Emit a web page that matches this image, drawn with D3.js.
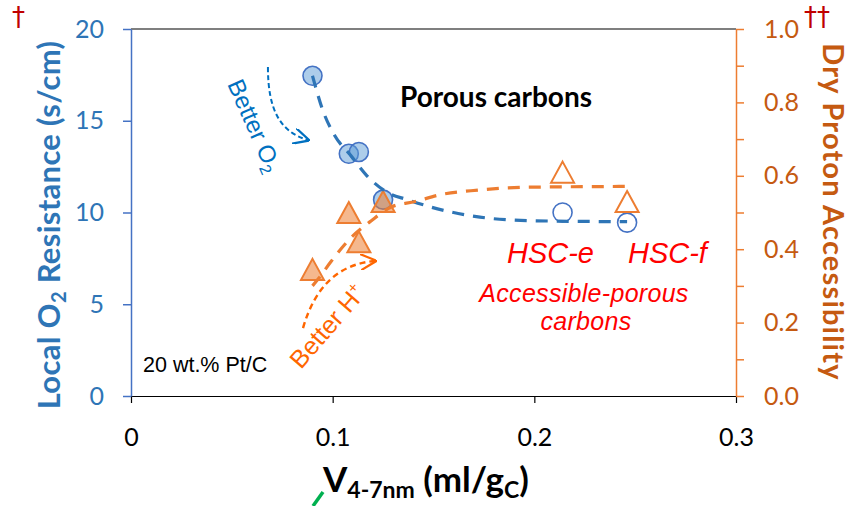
<!DOCTYPE html>
<html>
<head>
<meta charset="utf-8">
<script src="https://cdn.jsdelivr.net/npm/d3@7"></script>
<style>
  body { margin: 0; background: #fff; }
</style>
</head>
<body>
<div id="chart"></div>
<script>
// Values
const vPore = [0.090, 0.108, 0.113, 0.125, 0.214, 0.246];          // V4-7nm (ml/gC)
const o2Resistance = [17.45, 13.2, 13.3, 10.7, 10.0, 9.45];        // s/cm, left axis
const protonAccess = [0.345, 0.50, 0.42, 0.53, 0.61, 0.53];        // right axis
const openMarker = [false, false, false, false, true, true];       // HSC-e, HSC-f drawn hollow

// dashed trend lines (as drawn in the figure)
const o2TrendX = [0.090, 0.095, 0.101, 0.109, 0.117, 0.127, 0.137, 0.152, 0.173, 0.199, 0.246];
const o2TrendY = [17.45, 15.6, 14.2, 13.1, 12.0, 11.1, 10.7, 10.2, 9.75, 9.55, 9.5];
const hTrendX = [0.090, 0.093, 0.099, 0.108, 0.119, 0.129, 0.141, 0.153, 0.172, 0.198, 0.246];
const hTrendY = [0.30, 0.32, 0.365, 0.425, 0.477, 0.515, 0.53, 0.548, 0.561, 0.569, 0.571];

const xTicks = [0, 0.1, 0.2, 0.3];
const leftTicks = [0, 5, 10, 15, 20];
const rightTicks = [0, 0.1, 0.2, 0.3, 0.4, 0.5, 0.6, 0.7, 0.8, 0.9, 1.0];

// sample labels and where they sit (x in data units)
const hscNames = ["HSC-e", "HSC-f"];
const hscLabelX = [0.208, 0.266];

// "Better" arrows, in data units (cubic / quadratic control points)
const o2Arrow = [[0.0679, 17.93], [0.0679, 15.59], [0.0739, 14.39], [0.0878, 13.95]];
const hArrow = [[0.0853, 0.185], [0.0942, 0.356], [0.121, 0.368]];

const width = 851;
const height = 506;
const margin = {top: 29, right: 115, bottom: 110, left: 131};

const blue = "#2E75B6";
const blueLine = "#4472C4";
const orange = "#ED7D31";
const brown = "#C55A11";
const red = "#FF0000";
const calibri = "Lato, 'Open Sans', sans-serif";
const arial = "'Liberation Sans', Arial, sans-serif";

const svg = d3.select("#chart").append("svg")
    .attr("width", width)
    .attr("height", height)
    .attr("viewBox", [0, 0, width, height]);

const x = d3.scaleLinear().domain([0, 0.3]).range([margin.left, width - margin.right]);
const yL = d3.scaleLinear().domain([0, 20]).range([height - margin.bottom, margin.top]);
const yR = d3.scaleLinear().domain([0, 1]).range([height - margin.bottom, margin.top]);

// top frame line
svg.append("line")
    .attr("x1", x(0)).attr("x2", x(0.3))
    .attr("y1", yL(20)).attr("y2", yL(20))
    .attr("stroke", "#000").attr("stroke-width", 1.2);

// x axis
const gx = svg.append("g")
    .attr("transform", `translate(0,${yL(0)})`)
    .call(d3.axisBottom(x).tickValues(xTicks).tickSize(7).tickSizeOuter(0).tickPadding(25)
        .tickFormat(d => d === 0 ? "0" : d.toFixed(1)));
gx.select(".domain").attr("stroke", "#000").attr("stroke-width", 1.2);
gx.selectAll(".tick line").attr("stroke", "#000").attr("stroke-width", 1.2);
gx.selectAll("text").attr("font-family", calibri).attr("font-size", 25).attr("fill", "#000");

// left axis
const gl = svg.append("g")
    .attr("transform", `translate(${x(0)},0)`)
    .call(d3.axisLeft(yL).tickValues(leftTicks).tickSize(8).tickSizeOuter(0).tickPadding(19));
gl.select(".domain").attr("stroke", blueLine).attr("stroke-width", 1.5);
gl.selectAll(".tick line").attr("stroke", blueLine).attr("stroke-width", 1.5);
gl.selectAll("text").attr("font-family", calibri).attr("font-size", 25).attr("fill", blue);

// right axis
const gr = svg.append("g")
    .attr("transform", `translate(${x(0.3)},0)`)
    .call(d3.axisRight(yR).tickValues(rightTicks).tickSize(8).tickSizeOuter(0).tickPadding(20)
        .tickFormat(d => Math.round(d * 10) % 2 === 0 ? d.toFixed(1) : ""));
gr.select(".domain").attr("stroke", orange).attr("stroke-width", 1.5);
gr.selectAll(".tick line").attr("stroke", orange).attr("stroke-width", 1.5);
gr.selectAll("text").attr("font-family", calibri).attr("font-size", 25).attr("fill", brown);

// markers
const points = vPore.map((v, i) => ({v: v, r: o2Resistance[i], p: protonAccess[i], open: openMarker[i]}));

svg.append("g").selectAll("circle")
    .data(points)
    .join("circle")
    .attr("cx", d => x(d.v))
    .attr("cy", d => yL(d.r))
    .attr("r", 9.5)
    .attr("fill", d => d.open ? "none" : "rgba(91,155,213,0.5)")
    .attr("stroke", blueLine)
    .attr("stroke-width", 1.6);

const triW = 23, triH = 21;
svg.append("g").selectAll("path")
    .data(points)
    .join("path")
    .attr("d", `M0,${-triH / 2}L${triW / 2},${triH / 2}L${-triW / 2},${triH / 2}Z`)
    .attr("transform", d => `translate(${x(d.v)},${yR(d.p)})`)
    .attr("fill", d => d.open ? "none" : "rgba(237,125,49,0.55)")
    .attr("stroke", orange)
    .attr("stroke-width", 2);

// trend lines
const o2Line = d3.line().x(d => x(d[0])).y(d => yL(d[1])).curve(d3.curveMonotoneX);
const hLine = d3.line().x(d => x(d[0])).y(d => yR(d[1])).curve(d3.curveMonotoneX);

svg.append("path")
    .attr("d", o2Line(o2TrendX.map((v, i) => [v, o2TrendY[i]])))
    .attr("fill", "none")
    .attr("stroke", blue)
    .attr("stroke-width", 3.2)
    .attr("stroke-dasharray", "12,9");

svg.append("path")
    .attr("d", hLine(hTrendX.map((v, i) => [v, hTrendY[i]])))
    .attr("fill", "none")
    .attr("stroke", orange)
    .attr("stroke-width", 3.2)
    .attr("stroke-dasharray", "12,9");

// arrow heads
const defs = svg.append("defs");
function addMarker(id, color) {
    defs.append("marker")
        .attr("id", id)
        .attr("viewBox", "0 0 10 10")
        .attr("refX", 9).attr("refY", 5)
        .attr("markerWidth", 16).attr("markerHeight", 16)
        .attr("markerUnits", "userSpaceOnUse")
        .attr("orient", "auto")
        .append("path")
        .attr("d", "M0,0L10,5L0,10")
        .attr("fill", "none")
        .attr("stroke", color)
        .attr("stroke-width", 1.4);
}
addMarker("arrBlue", "#0070C0");
addMarker("arrOrange", "#FF6600");

const a = o2Arrow.map(d => [x(d[0]), yL(d[1])]);
svg.append("path")
    .attr("d", `M${a[0]}C${a[1]} ${a[2]} ${a[3]}`)
    .attr("fill", "none")
    .attr("stroke", "#0070C0")
    .attr("stroke-width", 2)
    .attr("stroke-dasharray", "5,3")
    .attr("marker-end", "url(#arrBlue)");

const h = hArrow.map(d => [x(d[0]), yR(d[1])]);
svg.append("path")
    .attr("d", `M${h[0]}Q${h[1]} ${h[2]}`)
    .attr("fill", "none")
    .attr("stroke", "#FF6600")
    .attr("stroke-width", 2.4)
    .attr("stroke-dasharray", "6,4")
    .attr("marker-end", "url(#arrOrange)");

// rotated "Better" labels
const tO2 = svg.append("text")
    .attr("transform", "translate(247,129) rotate(66)")
    .attr("text-anchor", "middle")
    .attr("font-family", arial).attr("font-size", 24).attr("fill", "#0070C0");
tO2.append("tspan").text("Better O");
tO2.append("tspan").attr("font-size", 16).attr("dy", 5).text("2");

const tH = svg.append("text")
    .attr("transform", "translate(334,332) rotate(-49)")
    .attr("text-anchor", "middle")
    .attr("font-family", arial).attr("font-size", 25).attr("fill", "#FF6600");
tH.append("tspan").text("Better H");
tH.append("tspan").attr("font-size", 15).attr("dy", -10).text("+");

// annotations
svg.append("text")
    .attr("x", 496).attr("y", 107)
    .attr("text-anchor", "middle")
    .attr("font-family", calibri).attr("font-weight", "bold").attr("font-size", 28)
    .attr("fill", "#000")
    .text("Porous carbons");

svg.append("text")
    .attr("x", 143).attr("y", 372)
    .attr("font-family", arial).attr("font-size", 21.5).attr("fill", "#000")
    .text("20 wt.% Pt/C");

svg.append("g").selectAll("text")
    .data(hscNames)
    .join("text")
    .attr("x", (d, i) => x(hscLabelX[i]))
    .attr("y", 263)
    .attr("text-anchor", "middle")
    .attr("font-family", arial).attr("font-style", "italic").attr("font-size", 29)
    .attr("fill", red)
    .text(d => d);

svg.append("text")
    .attr("x", 584).attr("y", 302)
    .attr("text-anchor", "middle")
    .attr("font-family", arial).attr("font-style", "italic").attr("font-size", 25)
    .attr("letter-spacing", 0.3)
    .attr("fill", red)
    .text("Accessible-porous");
svg.append("text")
    .attr("x", 586).attr("y", 330)
    .attr("text-anchor", "middle")
    .attr("font-family", arial).attr("font-style", "italic").attr("font-size", 25)
    .attr("letter-spacing", 0.3)
    .attr("fill", red)
    .text("carbons");

// axis titles
const lt = svg.append("text")
    .attr("transform", "translate(60,225) rotate(-90)")
    .attr("text-anchor", "middle")
    .attr("font-family", calibri).attr("font-weight", "bold").attr("font-size", 31)
    .attr("letter-spacing", 0.3)
    .attr("fill", blue);
lt.append("tspan").text("Local O");
lt.append("tspan").attr("font-size", 20).attr("dy", 6).text("2");
lt.append("tspan").attr("dy", -6).text(" Resistance (s/cm)");

svg.append("text")
    .attr("transform", "translate(823,212) rotate(90)")
    .attr("text-anchor", "middle")
    .attr("font-family", calibri).attr("font-weight", "bold").attr("font-size", 29)
    .attr("letter-spacing", 1.2)
    .attr("fill", brown)
    .text("Dry Proton Accessibility");

const xt = svg.append("text")
    .attr("x", 323).attr("y", 492)
    .attr("font-family", calibri).attr("font-weight", "bold").attr("font-size", 35)
    .attr("fill", "#000");
xt.append("tspan").text("V");
xt.append("tspan").attr("font-size", 23).attr("dy", 6).text("4-7nm");
xt.append("tspan").attr("dy", -6).text(" (ml/g");
xt.append("tspan").attr("font-size", 23).attr("dy", 6).text("C");
xt.append("tspan").attr("dy", -6).text(")");

// red daggers and green mark
svg.append("text")
    .attr("x", 12).attr("y", 26)
    .attr("font-family", "'DejaVu Sans', sans-serif").attr("font-size", 26)
    .attr("fill", "#C00000")
    .text("\u2020");
svg.append("text")
    .attr("x", 804).attr("y", 26)
    .attr("font-family", "'DejaVu Sans', sans-serif").attr("font-size", 26)
    .attr("fill", "#C00000")
    .text("\u2020\u2020");

svg.append("line")
    .attr("x1", 313).attr("y1", 506)
    .attr("x2", 323).attr("y2", 492)
    .attr("stroke", "#00B050").attr("stroke-width", 3.5);
</script>
</body>
</html>
